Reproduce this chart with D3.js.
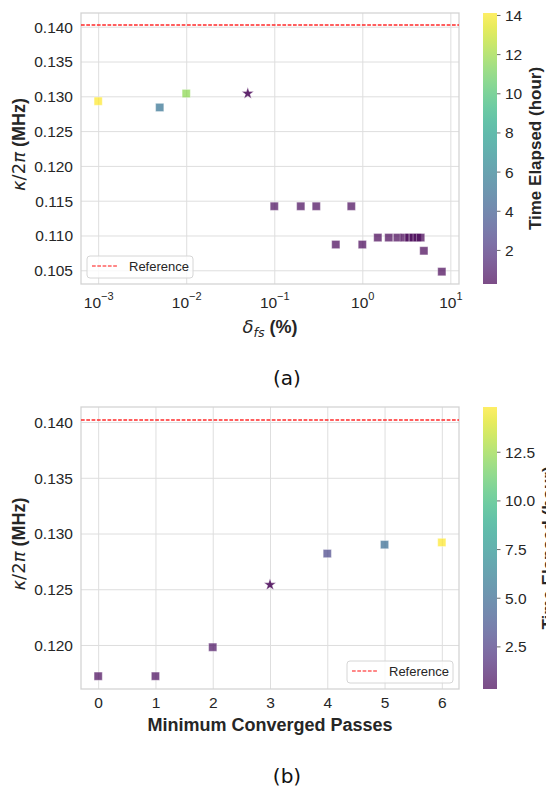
<!DOCTYPE html>
<html>
<head>
<meta charset="utf-8">
<script src="https://cdn.jsdelivr.net/npm/d3@7"></script>
<style>
  html, body { margin: 0; padding: 0; background: #fff; }
  svg { display: block; }
</style>
</head>
<body>
<svg id="fig" width="546" height="787"></svg>
<script>
// ---- panel (a): linewidth versus fractional-shift tolerance ----
const fsTolerance = [0.001, 0.005, 0.01, 0.05, 0.1, 0.2, 0.3, 0.75, 0.5, 1.0,
                     1.5, 2.0, 2.5, 3.0, 3.4, 3.8, 4.2, 4.6, 5.0, 8.0];
const fsKappa = [0.1293, 0.1284, 0.1304, 0.1304, 0.1142, 0.1142, 0.1142, 0.1142, 0.1087, 0.1087,
                 0.1097, 0.1097, 0.1097, 0.1097, 0.1097, 0.1097, 0.1097, 0.1097, 0.1078, 0.1048];
const fsHours = [14.1, 5.2, 11.6, 0.30, 0.50, 0.45, 0.40, 0.40, 0.35, 0.35,
                 0.30, 0.30, 0.30, 0.28, 0.28, 0.27, 0.27, 0.26, 0.26, 0.26];
const fsBest = 3;                       // chosen setting, drawn as a star

// ---- panel (b): linewidth versus minimum converged passes ----
const passes = [0, 1, 2, 3, 4, 5, 6];
const passKappa = [0.1172, 0.1172, 0.1198, 0.1254, 0.1282, 0.1290, 0.1292];
const passHours = [0.45, 0.50, 0.80, 0.31, 3.0, 5.1, 14.8];
const passBest = 3;

const referenceKappa = 0.1402;

// ---- tick values ----
const fsTicks = [1e-3, 1e-2, 1e-1, 1e0, 1e1];
const fsKappaTicks = [0.105, 0.110, 0.115, 0.120, 0.125, 0.130, 0.135, 0.140];
const passTicks = [0, 1, 2, 3, 4, 5, 6];
const passKappaTicks = [0.120, 0.125, 0.130, 0.135, 0.140];
const fsHourTicks = [2, 4, 6, 8, 10, 12, 14];
const passHourTicks = [2.5, 5.0, 7.5, 10.0, 12.5];

// ---- style ----
const SANS = "'Liberation Sans', Arial, sans-serif";
const MATH = "'DejaVu Sans', sans-serif";
const INK = "#262626";
const GRID = "#dedede";
const EDGE = "#d2d2d2";
const REF = "#ff2a2a";
const TICK_FS = 15.5;
const LABEL_FS = 18;

const svg = d3.select("#fig");
const defs = svg.append("defs");
svg.append("rect").attr("width", 546).attr("height", 787).attr("fill", "#fff");

// 5% autoscale margins, like matplotlib
function padded(lo, hi) {
  const m = 0.05 * (hi - lo);
  return [lo - m, hi + m];
}

function drawPanel(cfg) {
  const { box, x, y, xs, ys, hours, best } = cfg;
  const g = svg.append("g");
  const w = box.right - box.left, h = box.bottom - box.top;

  // y axis with gridlines
  const ya = g.append("g").attr("transform", `translate(${box.left},0)`)
    .call(d3.axisLeft(y).tickValues(cfg.yTicks).tickFormat(d3.format(".3f"))
      .tickSize(-w).tickPadding(8));
  ya.select(".domain").remove();
  ya.selectAll(".tick line").attr("stroke", GRID).attr("stroke-width", 1);
  ya.selectAll(".tick text").attr("fill", INK).attr("font-family", SANS)
    .attr("font-size", TICK_FS).attr("dy", "0.35em");

  // x axis with gridlines
  const xa = g.append("g").attr("transform", `translate(0,${box.bottom})`)
    .call(d3.axisBottom(x).tickValues(cfg.xTicks).tickSize(-h).tickPadding(8)
      .tickFormat(cfg.xFormat || d3.format("d")));
  xa.select(".domain").remove();
  xa.selectAll(".tick line").attr("stroke", GRID).attr("stroke-width", 1);
  xa.selectAll(".tick text").attr("fill", INK).attr("font-family", SANS)
    .attr("font-size", TICK_FS);
  if (cfg.logX) {
    xa.selectAll(".tick text").each(function (d) {
      const t = d3.select(this).text("").attr("y", 24).attr("dy", 0);
      t.append("tspan").text("10");
      t.append("tspan").attr("font-size", 11).attr("dy", -8)
        .text(String(Math.round(Math.log10(d))).replace("-", "\u2212"));
    });
  }

  // frame
  g.append("rect").attr("x", box.left).attr("y", box.top).attr("width", w).attr("height", h)
    .attr("fill", "none").attr("stroke", EDGE).attr("stroke-width", 1.25);

  // markers coloured by elapsed time
  const color = d3.scaleSequential(d3.interpolateViridis).domain(d3.extent(hours));
  const square = d3.symbol().type(d3.symbolSquare).size(67);
  const star = d3.symbol().type(d3.symbolStar).size(44);
  g.append("g").selectAll("path").data(xs.map((v, i) => i)).join("path")
    .attr("transform", i => `translate(${x(xs[i])},${y(ys[i])})`)
    .attr("d", i => (i === best ? star : square)())
    .attr("fill", i => color(hours[i]))
    .attr("fill-opacity", i => (i === best ? 0.85 : 0.7))
    .attr("stroke", "#fff").attr("stroke-opacity", 0.6).attr("stroke-width", 0.6);

  // reference line
  const yRef = Math.round(y(referenceKappa));
  g.append("line").attr("x1", box.left).attr("x2", box.right)
    .attr("y1", yRef).attr("y2", yRef)
    .attr("stroke", REF).attr("stroke-width", 1.4)
    .attr("stroke-dasharray", "3.7,1.6");

  // legend
  const lg = g.append("g").attr("transform", `translate(${cfg.legend[0]},${cfg.legend[1]})`);
  lg.append("rect").attr("width", 106).attr("height", 22).attr("rx", 3)
    .attr("fill", "#fff").attr("fill-opacity", 0.8).attr("stroke", "#d6d6d6").attr("stroke-width", 1);
  lg.append("line").attr("x1", 5).attr("x2", 30).attr("y1", 10).attr("y2", 10)
    .attr("stroke", REF).attr("stroke-opacity", 0.75).attr("stroke-width", 1.4)
    .attr("stroke-dasharray", "3.7,1.6");
  lg.append("text").attr("x", 42).attr("y", 14.5).attr("font-family", SANS)
    .attr("font-size", 13).attr("fill", INK).text("Reference");

  // y label: κ/2π (MHz)
  const yl = g.append("text")
    .attr("transform", `translate(25,${(box.top + box.bottom) / 2 - 4}) rotate(-90)`)
    .attr("text-anchor", "middle").attr("fill", INK).attr("font-size", LABEL_FS);
  yl.append("tspan").attr("font-family", MATH).attr("font-style", "italic").text("\u03BA");
  yl.append("tspan").attr("font-family", MATH).text("/2");
  yl.append("tspan").attr("font-family", MATH).attr("font-style", "italic").text("\u03C0");
  yl.append("tspan").attr("font-family", SANS).attr("font-weight", "bold").text(" (MHz)");

  // x label
  cfg.xLabel(g.append("text").attr("x", (box.left + box.right) / 2).attr("y", cfg.xLabelY)
    .attr("text-anchor", "middle").attr("fill", INK).attr("font-size", LABEL_FS));

  // colorbar
  const cb = cfg.cbar;
  const c = d3.scaleLinear().domain(d3.extent(hours)).range([box.bottom, box.top]);
  const gid = "cmap" + cfg.id;
  const grad = defs.append("linearGradient").attr("id", gid)
    .attr("x1", 0).attr("y1", 1).attr("x2", 0).attr("y2", 0);
  d3.range(0, 1.0001, 0.05).forEach(t =>
    grad.append("stop").attr("offset", t).attr("stop-color", d3.interpolateViridis(t)));
  const cg = svg.append("g");
  cg.append("rect").attr("x", cb.left).attr("y", box.top).attr("width", cb.width)
    .attr("height", h).attr("fill", `url(#${gid})`).attr("fill-opacity", 0.7);
  const ca = cg.append("g").attr("transform", `translate(${cb.left + cb.width},0)`)
    .call(d3.axisRight(c).tickValues(cfg.cTicks).tickFormat(cfg.cFormat)
      .tickSize(3.5).tickPadding(4.5));
  ca.select(".domain").remove();
  ca.selectAll(".tick line").attr("stroke", "#444").attr("stroke-width", 0.8);
  ca.selectAll(".tick text").attr("fill", INK).attr("font-family", SANS)
    .attr("font-size", TICK_FS).attr("dy", "0.35em");
  // the label sits just outside the widest tick label (it may run past the page edge)
  const right = d3.max(ca.selectAll(".tick text").nodes(), n => {
    const b = n.getBBox();
    return b.x + b.width;
  }) + cb.left + cb.width;
  cg.append("text")
    .attr("transform", `translate(${right + 18},${(box.top + box.bottom) / 2}) rotate(-90)`)
    .attr("text-anchor", "middle").attr("font-family", SANS).attr("font-weight", "bold")
    .attr("font-size", 17).attr("fill", INK).text("Time Elapsed (hour)");

  // sub-caption
  svg.append("text").attr("x", 287).attr("y", cfg.captionY).attr("text-anchor", "middle")
    .attr("font-family", MATH).attr("font-size", 20).attr("fill", "#111").text(cfg.caption);
}

// ---- panel (a) ----
{
  const box = { left: 81, right: 459, top: 13, bottom: 284 };
  const lx = padded(Math.log10(d3.min(fsTolerance)), Math.log10(d3.max(fsTolerance)));
  const x = d3.scaleLog().domain([10 ** lx[0], 10 ** lx[1]]).range([box.left, box.right]);
  const y = d3.scaleLinear()
    .domain(padded(d3.min(fsKappa.concat(referenceKappa)), d3.max(fsKappa.concat(referenceKappa))))
    .range([box.bottom, box.top]);
  drawPanel({
    id: "a", box, x, y, xs: fsTolerance, ys: fsKappa, hours: fsHours, best: fsBest,
    xTicks: fsTicks, yTicks: fsKappaTicks, logX: true,
    legend: [box.left + 6, box.bottom - 28],
    xLabelY: 333,
    xLabel: t => {
      t.append("tspan").attr("font-family", MATH).attr("font-style", "italic").text("\u03B4");
      t.append("tspan").attr("font-family", MATH).attr("font-style", "italic")
        .attr("font-size", 12.6).attr("dy", 4).text("fs");
      t.append("tspan").attr("font-family", SANS).attr("font-weight", "bold").attr("dy", -4).text(" (%)");
    },
    cbar: { left: 483, width: 14 }, cTicks: fsHourTicks, cFormat: d3.format("d"),
    caption: "(a)", captionY: 385
  });
}

// ---- panel (b) ----
{
  const box = { left: 81, right: 459, top: 407, bottom: 689 };
  const x = d3.scaleLinear().domain(padded(d3.min(passes), d3.max(passes))).range([box.left, box.right]);
  const y = d3.scaleLinear()
    .domain(padded(d3.min(passKappa.concat(referenceKappa)), d3.max(passKappa.concat(referenceKappa))))
    .range([box.bottom, box.top]);
  drawPanel({
    id: "b", box, x, y, xs: passes, ys: passKappa, hours: passHours, best: passBest,
    xTicks: passTicks, yTicks: passKappaTicks, logX: false,
    legend: [box.right - 112, box.bottom - 28],
    xLabelY: 731,
    xLabel: t => t.attr("font-family", SANS).attr("font-weight", "bold").text("Minimum Converged Passes"),
    cbar: { left: 483, width: 14 }, cTicks: passHourTicks, cFormat: d3.format(".1f"),
    caption: "(b)", captionY: 783
  });
}
</script>
</body>
</html>
